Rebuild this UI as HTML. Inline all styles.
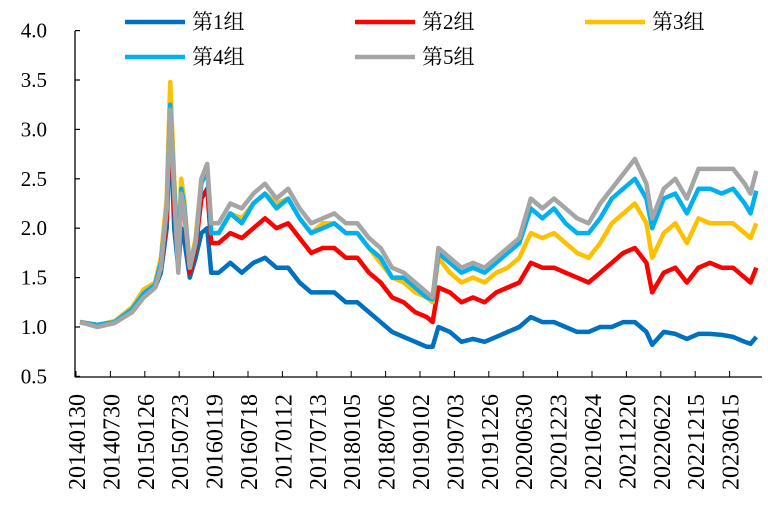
<!DOCTYPE html>
<html><head><meta charset="utf-8"><style>
html,body{margin:0;padding:0;background:#fff}
svg text{font-family:"Liberation Serif","Noto Serif CJK SC",serif;fill:#000}
</style></head><body>
<svg id="chart" width="768" height="507" viewBox="0 0 768 507">
<g id="axes"></g>
<g id="series"></g>
<g id="legend"></g>
</svg>
<script>
const months=[0,3,6,9,11,13,14,15,15.6,16.3,17,17.5,18,19,20,21,22,22.7,24,26,28,30,32,34,36,38,40,42,44,46,48,50,52,54,56,58,60,61,62,64,66,68,70,72,74,76,78,80,82,84,86,88,90,92,94,96,98,99,101,103,105,107,109,111,113,115,116,117];
const g1=[1.05,1.02,1.05,1.15,1.3,1.4,1.55,2.0,3.1,2.0,1.6,2.0,1.9,1.5,1.7,1.95,2.0,1.55,1.55,1.65,1.55,1.65,1.7,1.6,1.6,1.45,1.35,1.35,1.35,1.25,1.25,1.15,1.05,0.95,0.9,0.85,0.8,0.8,1.0,0.95,0.85,0.88,0.85,0.9,0.95,1.0,1.1,1.05,1.05,1.0,0.95,0.95,1.0,1.0,1.05,1.05,0.95,0.82,0.95,0.93,0.88,0.93,0.93,0.92,0.9,0.85,0.83,0.9];
const g2=[1.05,1.02,1.05,1.16,1.32,1.42,1.6,2.1,3.2,2.2,1.7,2.3,2.2,1.55,1.8,2.3,2.4,1.85,1.85,1.95,1.9,2.0,2.1,2.0,2.05,1.9,1.75,1.8,1.8,1.7,1.7,1.55,1.45,1.3,1.25,1.15,1.1,1.05,1.4,1.35,1.25,1.3,1.25,1.35,1.4,1.45,1.65,1.6,1.6,1.55,1.5,1.45,1.55,1.65,1.75,1.8,1.65,1.35,1.55,1.6,1.45,1.6,1.65,1.6,1.6,1.5,1.45,1.6];
const g3=[1.05,1.02,1.06,1.2,1.38,1.45,1.7,2.3,3.48,2.5,1.75,2.5,2.3,1.6,1.9,2.5,2.65,1.95,1.95,2.15,2.1,2.25,2.35,2.25,2.3,2.1,1.95,2.05,2.05,1.95,1.95,1.8,1.65,1.5,1.45,1.35,1.3,1.25,1.7,1.55,1.45,1.5,1.45,1.55,1.6,1.7,1.95,1.9,1.95,1.85,1.75,1.7,1.85,2.05,2.15,2.25,2.05,1.7,1.95,2.05,1.85,2.1,2.05,2.05,2.05,1.95,1.9,2.05];
const g4=[1.05,1.02,1.05,1.18,1.34,1.43,1.65,2.2,3.25,2.4,1.7,2.4,2.25,1.6,1.85,2.45,2.6,1.95,1.95,2.15,2.05,2.25,2.35,2.2,2.3,2.1,1.95,2.0,2.05,1.95,1.95,1.8,1.7,1.5,1.5,1.4,1.3,1.28,1.75,1.65,1.55,1.6,1.55,1.65,1.75,1.85,2.2,2.1,2.2,2.05,1.95,1.95,2.1,2.3,2.4,2.5,2.3,2.0,2.3,2.35,2.15,2.4,2.4,2.35,2.4,2.25,2.15,2.38];
const g5=[1.05,1.0,1.04,1.15,1.3,1.4,1.6,2.2,3.2,2.35,1.55,2.35,2.2,1.6,1.85,2.5,2.65,2.05,2.05,2.25,2.2,2.35,2.45,2.3,2.4,2.2,2.05,2.1,2.15,2.05,2.05,1.9,1.8,1.6,1.55,1.45,1.35,1.3,1.8,1.7,1.6,1.65,1.6,1.7,1.8,1.9,2.3,2.2,2.3,2.2,2.1,2.05,2.25,2.4,2.55,2.7,2.45,2.1,2.4,2.5,2.3,2.6,2.6,2.6,2.6,2.45,2.35,2.58];
const yTicks=["0.5","1.0","1.5","2.0","2.5","3.0","3.5","4.0"];
const xLabels=["20140130","20140730","20150126","20150723","20160119","20160718","20170112","20170713","20180105","20180706","20190102","20190703","20191226","20200630","20201223","20210624","20211220","20220622","20221215","20230615"];
const seriesNames=["第1组","第2组","第3组","第4组","第5组"];
const colors=["#0070C0","#FF0000","#FFC000","#00B0F0","#A5A5A5"];
const NS="http://www.w3.org/2000/svg";
function yS(v){return 327-(v-1)*98.8;}
function xS(m){return 80+m*5.78;}
function mk(tag,attrs,parent){const e=document.createElementNS(NS,tag);for(const k in attrs)e.setAttribute(k,attrs[k]);parent.appendChild(e);return e;}
const axes=document.getElementById('axes');
let e=mk('line',{x1:75,y1:31,x2:75,y2:377,stroke:'#000','stroke-width':1.3},axes);


e=mk('line',{x1:75,y1:377,x2:762,y2:377,stroke:'#000','stroke-width':1.3},axes);


yTicks.forEach(t=>{const y=yS(parseFloat(t));
 const tk=mk('line',{x1:75,y1:y,x2:80,y2:y,stroke:'#000','stroke-width':1.2},axes);
 
 
 const tx=mk('text',{x:47,y:y+7,'text-anchor':'end','font-size':21},axes);tx.textContent=t;
 
 
});
xLabels.forEach((l,i)=>{const x=76+i*34.4;
 const tk=mk('line',{x1:x,y1:377,x2:x,y2:371,stroke:'#000','stroke-width':1},axes);
 
 
 const tx=mk('text',{x:0,y:0,'text-anchor':'end','font-size':24,transform:`translate(${x+9},394) rotate(-90)`},axes);tx.textContent=l;
 
 
});
const sg=document.getElementById('series');
[g1,g2,g3,g4,g5].forEach((d,i)=>{
 const pts=d.map((v,j)=>xS(months[j]).toFixed(1)+','+yS(v).toFixed(1)).join(' ');
 const p=mk('polyline',{points:pts,fill:'none',stroke:colors[i],'stroke-width':4.5,'stroke-linejoin':'round'},sg);
 
 
});
const lg=document.getElementById('legend');
const lpos=[[125,22],[355,22],[585,22],[125,57],[355,57]];
seriesNames.forEach((n,i)=>{const [x,y]=lpos[i];
 const ln=mk('line',{x1:x,y1:y,x2:x+60,y2:y,stroke:colors[i],'stroke-width':4.5},lg);
 
 
 const tx=mk('text',{x:x+67,y:y+7,'font-size':21},lg);tx.textContent=n;
 
 
});
</script>
</body></html>
